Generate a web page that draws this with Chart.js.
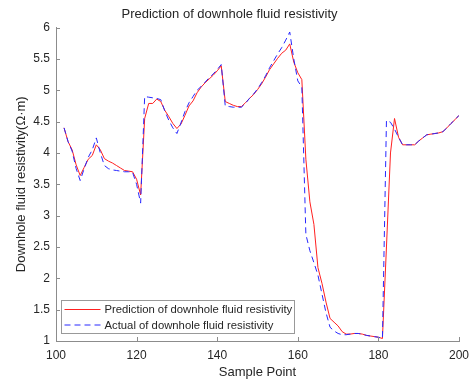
<!DOCTYPE html>
<html lang="en">
<head>
    <meta charset="UTF-8">
    <title>Prediction of downhole fluid resistivity</title>
    <script src="https://cdn.jsdelivr.net/npm/chart.js@4.4.0/dist/chart.umd.min.js"></script>
    <style>
        body { margin: 0; background: #fff; }
    </style>
</head>
<body>

    <canvas id="chart" width="470" height="383"></canvas>

    <script>
        // sample index on the x axis
        const samples = [
            102, 103, 104, 105, 106, 107, 108, 109, 110, 111,
            112, 113, 114, 115, 116, 117, 118, 119, 120, 121,
            122, 123, 124, 125, 126, 127, 128, 129, 130, 131,
            132, 133, 134, 135, 136, 137, 138, 139, 140, 141,
            142, 143, 144, 145, 146, 147, 148, 149, 150, 151,
            152, 153, 154, 155, 156, 157, 158, 159, 160, 161,
            162, 163, 164, 165, 166, 167, 168, 169, 170, 171,
            172, 173, 174, 175, 176, 177, 178, 179, 180, 181,
            182, 183, 184, 185, 186, 187, 188, 189, 190, 191,
            192, 193, 194, 195, 196, 197, 198, 199, 200
        ];
        // predicted resistivity (red)
        const predicted = [
            4.40, 4.18, 4.05, 3.81, 3.64, 3.77, 3.90, 3.96, 4.13, 4.05,
            3.91, 3.87, 3.84, 3.80, 3.76, 3.72, 3.71, 3.70, 3.58, 3.33,
            4.55, 4.79, 4.79, 4.86, 4.82, 4.68, 4.58, 4.47, 4.39, 4.46,
            4.60, 4.75, 4.83, 4.96, 5.05, 5.12, 5.18, 5.24, 5.31, 5.39,
            4.82, 4.79, 4.76, 4.74, 4.74, 4.80, 4.87, 4.93, 5.01, 5.10,
            5.21, 5.33, 5.42, 5.51, 5.59, 5.64, 5.74, 5.45, 5.28, 5.17,
            3.90, 3.22, 2.86, 2.17, 1.92, 1.62, 1.36, 1.30, 1.24, 1.15,
            1.11, 1.11, 1.12, 1.12, 1.11, 1.09, 1.08, 1.07, 1.06, 1.04,
            2.50, 4.00, 4.55, 4.25, 4.13, 4.13, 4.13, 4.13, 4.19, 4.24,
            4.29, 4.30, 4.31, 4.32, 4.34, 4.40, 4.47, 4.53, 4.60
        ];
        // measured resistivity (blue dashed)
        const actual = [
            4.40, 4.18, 4.03, 3.75, 3.56, 3.75, 3.93, 4.05, 4.24, 4.00,
            3.80, 3.75, 3.73, 3.72, 3.71, 3.70, 3.70, 3.69, 3.50, 3.20,
            4.90, 4.89, 4.88, 4.87, 4.85, 4.67, 4.52, 4.40, 4.31, 4.48,
            4.66, 4.80, 4.90, 5.00, 5.06, 5.13, 5.20, 5.26, 5.33, 5.41,
            4.75, 4.74, 4.73, 4.73, 4.73, 4.79, 4.87, 4.94, 5.02, 5.12,
            5.23, 5.36, 5.47, 5.58, 5.68, 5.80, 5.93, 5.50, 5.15, 5.05,
            2.70, 2.44, 2.25, 2.05, 1.75, 1.45, 1.22, 1.16, 1.12, 1.10,
            1.10, 1.11, 1.12, 1.12, 1.11, 1.09, 1.08, 1.07, 1.06, 1.04,
            4.52, 4.49, 4.38, 4.25, 4.13, 4.13, 4.13, 4.13, 4.19, 4.24,
            4.29, 4.30, 4.31, 4.32, 4.34, 4.40, 4.47, 4.53, 4.60
        ];
        const xTicks = [100, 120, 140, 160, 180, 200];
        const yTicks = [1, 1.5, 2, 2.5, 3, 3.5, 4, 4.5, 5, 5.5, 6];

        const font = 'Liberation Sans, Arial, Helvetica, sans-serif';
        const axisColor = '#8c8c8c';
        const textColor = '#262626';

        // matlab style ticks pointing into the plot
        const innerTicks = {
            id: 'innerTicks',
            afterDraw(chart) {
                const ctx = chart.ctx;
                const area = chart.chartArea;
                const sx = chart.scales.x, sy = chart.scales.y;
                ctx.save();
                ctx.strokeStyle = axisColor;
                ctx.lineWidth = 1;
                sx.ticks.forEach((t, i) => {
                    const px = Math.round(sx.getPixelForTick(i)) + 0.5;
                    ctx.beginPath();
                    ctx.moveTo(px, area.bottom);
                    ctx.lineTo(px, area.bottom - 4);
                    ctx.stroke();
                });
                sy.ticks.forEach((t, i) => {
                    const py = Math.round(sy.getPixelForTick(i)) + 0.5;
                    ctx.beginPath();
                    ctx.moveTo(area.left, py);
                    ctx.lineTo(area.left + 4, py);
                    ctx.stroke();
                });
                ctx.restore();
            }
        };

        // legend box in the lower left corner of the axes
        const boxLegend = {
            id: 'boxLegend',
            afterDatasetsDraw(chart) {
                const ctx = chart.ctx;
                const area = chart.chartArea;
                const x0 = area.left + 5.5, y0 = area.bottom - 40.5;
                const w = 233, h = 33;
                ctx.save();
                ctx.fillStyle = '#fff';
                ctx.fillRect(x0, y0, w, h);
                ctx.strokeStyle = '#999';
                ctx.lineWidth = 1;
                ctx.strokeRect(x0, y0, w, h);
                ctx.font = '11.3px ' + font;
                ctx.textBaseline = 'middle';
                chart.data.datasets.forEach((ds, i) => {
                    const ly = y0 + 9 + i * 15.5;
                    ctx.strokeStyle = ds.borderColor;
                    ctx.lineWidth = ds.borderWidth;
                    ctx.setLineDash(ds.borderDash || []);
                    ctx.beginPath();
                    ctx.moveTo(x0 + 3, ly);
                    ctx.lineTo(x0 + 39, ly);
                    ctx.stroke();
                    ctx.setLineDash([]);
                    ctx.fillStyle = textColor;
                    ctx.fillText(ds.label, x0 + 43, ly + 0.5);
                });
                ctx.restore();
            }
        };

        const ctx = document.getElementById('chart').getContext('2d');
        const myChart = new Chart(ctx, {
            type: 'line',
            data: {
                datasets: [{
                    label: 'Prediction of downhole fluid resistivity',
                    data: samples.map((s, i) => ({ x: s, y: predicted[i] })),
                    borderColor: '#ff2020',
                    borderWidth: 1,
                    pointRadius: 0,
                    tension: 0,
                    order: 1
                }, {
                    label: 'Actual of downhole fluid resistivity',
                    data: samples.map((s, i) => ({ x: s, y: actual[i] })),
                    borderColor: '#2828ff',
                    borderWidth: 1,
                    borderDash: [6, 4],
                    pointRadius: 0,
                    tension: 0,
                    order: 0
                }]
            },
            options: {
                responsive: false,
                animation: false,
                layout: { padding: { left: 0, right: 11, top: 0, bottom: 0 } },
                plugins: {
                    legend: { display: false },
                    tooltip: { enabled: false },
                    title: {
                        display: true,
                        text: 'Prediction of downhole fluid resistivity',
                        color: textColor,
                        font: { family: font, size: 13, weight: 'normal' },
                        padding: { top: 7, bottom: 5 }
                    }
                },
                scales: {
                    x: {
                        type: 'linear',
                        min: 100,
                        max: 200,
                        afterBuildTicks: s => { s.ticks = xTicks.map(v => ({ value: v })); },
                        afterFit: s => { s.height = 42; s.paddingLeft = 0; s.paddingRight = 0; },
                        grid: { display: true, drawOnChartArea: false, drawTicks: false },
                        border: { display: true, color: axisColor, width: 1 },
                        ticks: { color: textColor, font: { family: font, size: 12 }, padding: 7, maxRotation: 0,
                                 callback: v => String(v) },
                        title: {
                            display: true,
                            text: 'Sample Point',
                            color: textColor,
                            font: { family: font, size: 13 },
                            padding: { top: 0, bottom: 3 }
                        }
                    },
                    y: {
                        min: 1,
                        max: 6,
                        afterBuildTicks: s => { s.ticks = yTicks.map(v => ({ value: v })); },
                        afterFit: s => { s.width = 56; s.paddingTop = 0; s.paddingBottom = 0; },
                        grid: { display: true, drawOnChartArea: false, drawTicks: false },
                        border: { display: true, color: axisColor, width: 1 },
                        ticks: { color: textColor, font: { family: font, size: 12 }, padding: 6,
                                 callback: v => String(v) },
                        title: {
                            display: true,
                            text: 'Downhole fluid resistivity(Ω·m)',
                            color: textColor,
                            font: { family: font, size: 13 },
                            padding: { top: 14, bottom: 0 }
                        }
                    }
                }
            },
            plugins: [innerTicks, boxLegend]
        });
    </script>
</body>
</html>
